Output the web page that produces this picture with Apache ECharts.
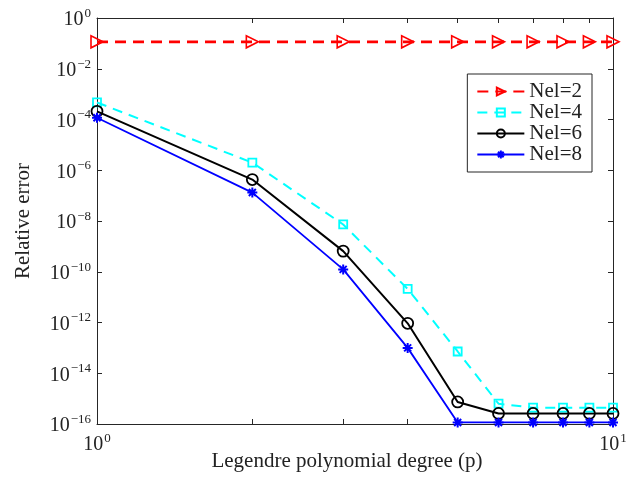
<!DOCTYPE html>
<html>
<head>
<meta charset="utf-8">
<script src="https://cdn.jsdelivr.net/npm/echarts@6/dist/echarts.min.js"></script>
<style>html,body{margin:0;padding:0;background:#fff}#c{width:642px;height:477px}</style>
</head>
<body>
<div id="c"></div>
<script>
// Data
const degrees = [1, 2, 3, 4, 5, 6, 7, 8, 9, 10];
const nel2 = [0.115, 0.115, 0.115, 0.115, 0.115, 0.115, 0.115, 0.115, 0.115, 0.115];
const nel4 = [4.7e-4, 2.0e-6, 7.3e-9, 2.1e-11, 7.2e-14, 6.3e-16, 4.4e-16, 4.4e-16, 4.4e-16, 4.4e-16];
const nel6 = [2.1e-4, 4.3e-7, 6.5e-10, 9.3e-13, 7.4e-16, 2.6e-16, 2.6e-16, 2.6e-16, 2.6e-16, 2.6e-16];
const nel8 = [1.17e-4, 1.32e-7, 1.24e-10, 1.0e-13, 1.15e-16, 1.15e-16, 1.15e-16, 1.15e-16, 1.15e-16, 1.15e-16];
const seriesNames = ['Nel=2', 'Nel=4', 'Nel=6', 'Nel=8'];
const xTickValues = [1, 2, 3, 4, 5, 6, 7, 8, 9, 10];
const xLabelValues = [1, 10];
const xTitle = 'Legendre polynomial degree (p)';
const yTitle = 'Relative error';

const FONT = 'Liberation Serif';
const AX = '#262626';
const TXT = '#222222';

function pow10Label(v) {
  const e = Math.round(Math.log10(v));
  return '{b|10}{s|' + (e < 0 ? '\u2212' + (-e) : e) + '}';
}
const richLbl = {
  b: { fontFamily: FONT, fontSize: 20, color: TXT, lineHeight: 22, padding: [4, 0, 0, 0] },
  s: { fontFamily: FONT, fontSize: 13, color: TXT, verticalAlign: 'top', lineHeight: 13, padding: [0, 0, 0, 1] }
};

const asterisk = 'path://M5,0L5,10M0,5L10,5M1.5,1.5L8.5,8.5M8.5,1.5L1.5,8.5';

function pairs(vals) { return degrees.map((d, i) => [d, vals[i]]); }

const chart = echarts.init(document.getElementById('c'), null, { renderer: 'canvas' });
const baseX = {
  type: 'log', logBase: 10, min: 1, max: 10,
  axisLine: { show: true, onZero: false, lineStyle: { color: AX, width: 1 } },
  axisTick: { show: true, inside: true, length: 5, customValues: xTickValues, lineStyle: { color: AX } },
  splitLine: { show: false }
};
const baseY = {
  type: 'log', logBase: 100, min: 1e-16, max: 1,
  axisLine: { show: true, onZero: false, lineStyle: { color: AX, width: 1 } },
  axisTick: { show: true, inside: true, length: 5, lineStyle: { color: AX } },
  splitLine: { show: false }
};
chart.setOption({
  animation: false,
  backgroundColor: '#fff',
  grid: { left: 97, right: 29, top: 18, bottom: 53, containLabel: false, outerBoundsMode: 'none' },
  legend: {
    right: 50, top: 74, orient: 'vertical',
    data: seriesNames,
    itemWidth: 47, itemHeight: 10, itemGap: 0,
    backgroundColor: '#fff', borderColor: AX, borderWidth: 1,
    padding: [7, 10, 7, 9],
    textStyle: { fontFamily: FONT, fontSize: 21, color: TXT, lineHeight: 20 }
  },
  xAxis: [
    Object.assign({}, baseX, {
      position: 'bottom',
      name: xTitle, nameLocation: 'middle', nameGap: 27, nameMoveOverlap: false,
      nameTextStyle: { fontFamily: FONT, fontSize: 21, color: TXT, padding: [0, 16, 0, 0] },
      axisLabel: { show: true, customValues: xLabelValues, margin: 8, formatter: pow10Label, rich: richLbl }
    }),
    Object.assign({}, baseX, { position: 'top', axisLabel: { show: false } })
  ],
  yAxis: [
    Object.assign({}, baseY, {
      position: 'left',
      name: yTitle, nameLocation: 'middle', nameGap: 63, nameMoveOverlap: false,
      nameTextStyle: { fontFamily: FONT, fontSize: 21, color: TXT },
      axisLabel: { show: true, margin: 6, formatter: pow10Label, rich: richLbl }
    }),
    Object.assign({}, baseY, { position: 'right', axisLabel: { show: false } })
  ],
  series: [
    {
      name: seriesNames[0], type: 'line', data: pairs(nel2),
      symbol: 'triangle', symbolSize: 12, symbolRotate: -90, showAllSymbol: true,
      lineStyle: { color: '#ff0000', width: 2.6, type: [11, 7] },
      itemStyle: { color: 'rgba(0,0,0,0)', borderColor: '#ff0000', borderWidth: 1.6 }
    },
    {
      name: seriesNames[1], type: 'line', data: pairs(nel4),
      symbol: 'rect', symbolSize: 8, showAllSymbol: true,
      lineStyle: { color: '#00ffff', width: 2, type: [10, 7] },
      itemStyle: { color: 'rgba(0,0,0,0)', borderColor: '#00ffff', borderWidth: 1.8 }
    },
    {
      name: seriesNames[2], type: 'line', data: pairs(nel6),
      symbol: 'circle', symbolSize: 11, showAllSymbol: true,
      lineStyle: { color: '#000000', width: 2 },
      itemStyle: { color: 'rgba(0,0,0,0)', borderColor: '#000000', borderWidth: 1.8 }
    },
    {
      name: seriesNames[3], type: 'line', data: pairs(nel8),
      symbol: asterisk, symbolSize: 10, showAllSymbol: true,
      lineStyle: { color: '#0000ff', width: 1.8 },
      itemStyle: { color: 'rgba(0,0,0,0)', borderColor: '#0000ff', borderWidth: 2 }
    }
  ]
});
</script>
</body>
</html>
